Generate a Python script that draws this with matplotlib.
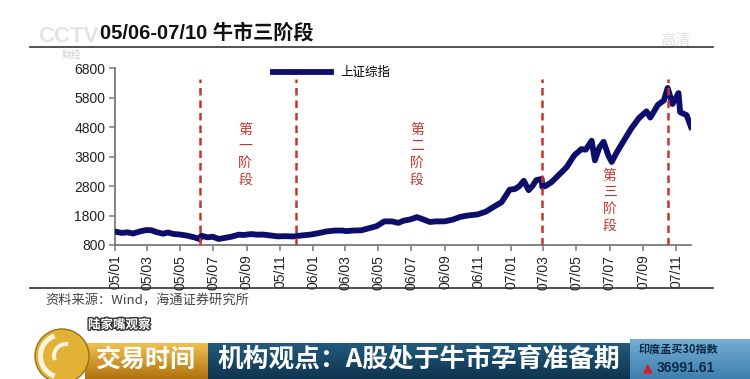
import numpy as np
import pandas as pd
import matplotlib
matplotlib.use('Agg')
import matplotlib.pyplot as plt
import matplotlib.dates as mdates
from matplotlib.lines import Line2D
from matplotlib.patches import Circle, Wedge
from matplotlib.colors import LinearSegmentedColormap
import matplotlib.patheffects as pe

CJK = ['Noto Sans CJK SC', 'DejaVu Sans']
LAT = ['Liberation Sans', 'Noto Sans CJK SC']

# Shanghai Composite (approximate)
dates = ["2005-01-04", "2005-01-14", "2005-01-24", "2005-02-03", "2005-02-18", "2005-02-28",
         "2005-03-09", "2005-03-18", "2005-03-31", "2005-04-08", "2005-04-20", "2005-04-29",
         "2005-05-13", "2005-05-27", "2005-06-06", "2005-06-09", "2005-06-20", "2005-06-30",
         "2005-07-11", "2005-07-22", "2005-08-03", "2005-08-17", "2005-08-26", "2005-09-09",
         "2005-09-20", "2005-09-30", "2005-10-14", "2005-10-28", "2005-11-10", "2005-11-25",
         "2005-12-09", "2005-12-20", "2005-12-30",
         "2006-01-13", "2006-01-25", "2006-02-10", "2006-02-24", "2006-03-03", "2006-03-15",
         "2006-03-31", "2006-04-14", "2006-04-28", "2006-05-12", "2006-05-26", "2006-06-07",
         "2006-06-16", "2006-06-30", "2006-07-11", "2006-07-21", "2006-08-04", "2006-08-15",
         "2006-08-31", "2006-09-15", "2006-09-29", "2006-10-13", "2006-10-31", "2006-11-15",
         "2006-11-30", "2006-12-14", "2006-12-29",
         "2007-01-08", "2007-01-16", "2007-01-24", "2007-02-02", "2007-02-09", "2007-02-16",
         "2007-02-26", "2007-02-27", "2007-03-05", "2007-03-16", "2007-03-30", "2007-04-13",
         "2007-04-27", "2007-05-10", "2007-05-18", "2007-05-29", "2007-06-04", "2007-06-12",
         "2007-06-20", "2007-06-29", "2007-07-05", "2007-07-13", "2007-07-27", "2007-08-10",
         "2007-08-24", "2007-09-07", "2007-09-14", "2007-09-28", "2007-10-09", "2007-10-16",
         "2007-10-25", "2007-11-05", "2007-11-08", "2007-11-20", "2007-11-28"]
values = [1243, 1210, 1230, 1190, 1270, 1306,
          1300, 1240, 1181, 1225, 1170, 1159,
          1120, 1060, 998, 1115, 1060, 1080,
          1004, 1040, 1080, 1150, 1140, 1170,
          1150, 1155, 1125, 1092, 1100, 1090,
          1120, 1140, 1161,
          1210, 1258, 1290, 1290, 1270, 1290,
          1299, 1370, 1440, 1600, 1600, 1550,
          1620, 1672, 1745, 1680, 1580, 1600,
          1601, 1660, 1752, 1800, 1837, 1930,
          2099, 2250, 2675,
          2700, 2800, 2975, 2660, 2800, 2998,
          3040, 2771, 2800, 2930, 3183, 3440,
          3841, 4050, 4030, 4335, 3670, 4100,
          4300, 3820, 3615, 3900, 4330, 4750,
          5100, 5330, 5120, 5552, 5700, 6124,
          5580, 5950, 5300, 5200, 4803]

stage_bounds = ["2005-06-06", "2005-12-01", "2007-02-27", "2007-10-16"]
stage_labels = ["第\n一\n阶\n段", "第\n二\n阶\n段", "第\n三\n阶\n段"]
yticks = [800, 1800, 2800, 3800, 4800, 5800, 6800]

W, H = 750, 379


def fx(x):
    return x / W


def fy(y):
    return 1 - y / H


fig = plt.figure(figsize=(7.5, 3.79), dpi=100)
fig.patch.set_facecolor('white')

ax = fig.add_axes([fx(115), fy(245), fx(576), 177 / H])
x = pd.to_datetime(dates)
ax.plot(x, values, color='#0d0d6b', lw=4.2, solid_joinstyle='round', label='上证综指', zorder=3)
ax.vlines(pd.to_datetime(stage_bounds), 800, 6430, colors='#c8342c',
          linestyles=(0, (3, 2)), lw=1.8, zorder=4)

ax.set_ylim(800, 6800)
ax.set_yticks(yticks)
ax.set_xlim(pd.Timestamp("2005-01-01"), pd.Timestamp("2007-11-28"))
ax.xaxis.set_major_locator(mdates.MonthLocator(bymonth=[1, 3, 5, 7, 9, 11]))
ax.xaxis.set_major_formatter(mdates.DateFormatter('%y/%m'))
for lab in ax.get_xticklabels():
    lab.set_rotation(90)
for s in ['top', 'right']:
    ax.spines[s].set_visible(False)
for s in ['left', 'bottom']:
    ax.spines[s].set_color('#7a7a7a')
    ax.spines[s].set_linewidth(1.3)
ax.tick_params(length=4, width=1.1, color='#7a7a7a', labelsize=10, labelcolor='#222222', pad=3)
for lab in ax.get_xticklabels() + ax.get_yticklabels():
    lab.set_family(LAT)

ax.legend(loc='upper left', bbox_to_anchor=(0.255, 1.075), frameon=False, handlelength=4.6,
          prop=dict(family=CJK, size=9))

stage_pos = [(0.226, 0.51), (0.524, 0.51), (0.859, 0.25)]
for (px, py), lab in zip(stage_pos, stage_labels):
    ax.text(px, py, lab, transform=ax.transAxes, ha='center', va='center',
            color='#c8342c', fontsize=10, linespacing=1.25, family=CJK)

# title and rules
fig.text(fx(100), fy(33), '05/06-07/10 牛市三阶段', fontsize=14.5, fontweight='bold',
         family=LAT, va='center', color='#111111')
fig.add_artist(Line2D([fx(30), fx(713)], [fy(47), fy(47)], color='#333333', lw=1.2))
fig.add_artist(Line2D([fx(30), fx(713)], [fy(288), fy(288)], color='#333333', lw=1.2))
fig.text(fx(45), fy(301), '资料来源：Wind，海通证券研究所', fontsize=9.5, family=CJK,
         va='center', color='#444444')

# faint channel watermarks
fig.text(fx(38), fy(36), 'CCTV', fontsize=16, fontweight='bold', family=LAT,
         va='center', color='#dddddd', alpha=0.8, zorder=0)
fig.text(fx(62), fy(55), '财经', fontsize=7, family=CJK, va='center', color='#cccccc', zorder=0)
fig.text(fx(660), fy(40), '高清', fontsize=11, family=CJK, va='center', color='#e0e0e0', zorder=0)


# banner
def grad_box(x0, y0, x1, y1, c_top, c_bot):
    b = fig.add_axes([fx(x0), fy(y1), fx(x1 - x0), (y1 - y0) / H])
    cm = LinearSegmentedColormap.from_list('g', [c_top, c_bot])
    b.imshow(np.linspace(0, 1, 50).reshape(-1, 1), aspect='auto', cmap=cm)
    b.axis('off')
    return b


grad_box(85, 343, 208, 379, '#f0c050', '#b0720f')
grad_box(208, 343, 630, 379, '#235a7c', '#0f3550')
grad_box(630, 339, 750, 379, '#74aed2', '#3d7fae')

fig.text(fx(146), fy(360), '交易时间', fontsize=18, fontweight='bold', family=CJK,
         ha='center', va='center', color='white', zorder=5)
fig.text(fx(419), fy(360), '机构观点：A股处于牛市孕育准备期', fontsize=18.5, fontweight='bold',
         family=CJK, ha='center', va='center', color='white', zorder=5)
fig.text(fx(678), fy(349), '印度孟买30指数', fontsize=8, fontweight='bold', family=CJK,
         ha='center', va='center', color='#0d2a4a', zorder=5)
fig.text(fx(643), fy(368), '▲', fontsize=9, family=['DejaVu Sans'], ha='left', va='center',
         color='#d42020', zorder=5)
fig.text(fx(657), fy(368), '36991.61', fontsize=10, fontweight='bold', family=LAT,
         ha='left', va='center', color='#0d2a4a', zorder=5)
fig.text(fx(88), fy(325), '陆家嘴观察', fontsize=9, fontweight='bold', family=CJK,
         va='center', color='white', zorder=5,
         path_effects=[pe.withStroke(linewidth=2, foreground='#333333')])

globe = Circle((0.62, (H - 356) / 100), 0.27, transform=fig.dpi_scale_trans,
               facecolor='#e2b236', edgecolor='#9a7010', lw=1, zorder=6)
fig.add_artist(globe)
fig.add_artist(Wedge((0.62, (H - 356) / 100), 0.24, 110, 250, width=0.05,
                     transform=fig.dpi_scale_trans, facecolor='white', alpha=0.85, zorder=7))
fig.add_artist(Wedge((0.66, (H - 356) / 100), 0.14, 80, 200, width=0.04,
                     transform=fig.dpi_scale_trans, facecolor='white', alpha=0.85, zorder=7))

plt.savefig('out.png', dpi=100)
plt.close()
